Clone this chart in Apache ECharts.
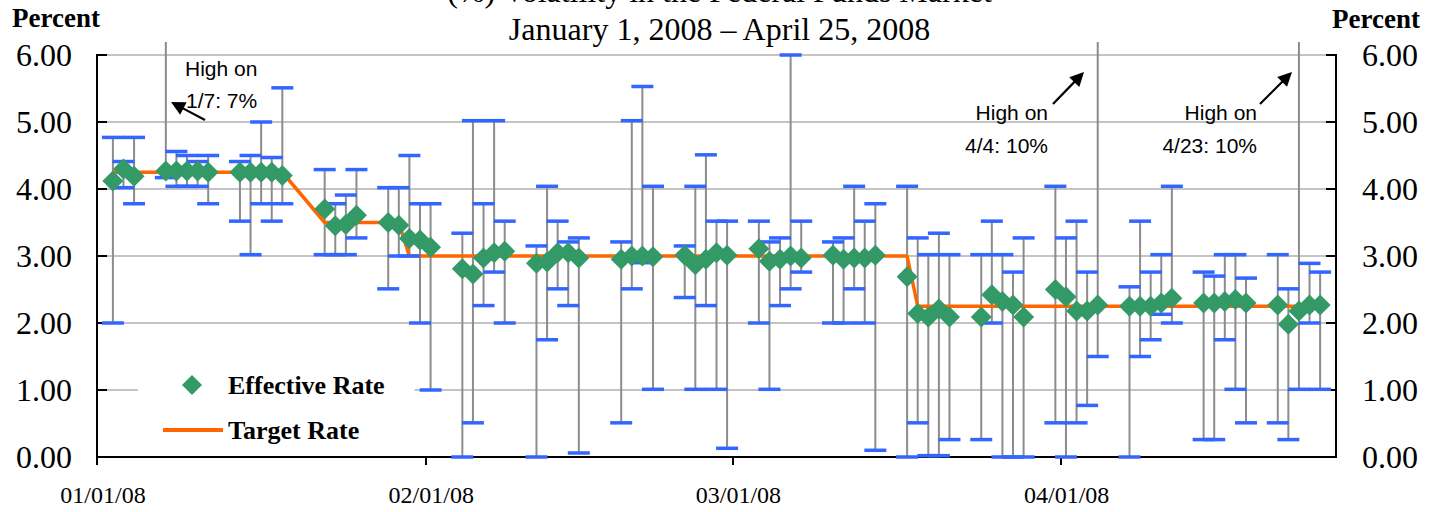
<!DOCTYPE html>
<html>
<head>
<meta charset="utf-8">
<script src="https://cdn.jsdelivr.net/npm/echarts@6/dist/echarts.min.js"></script>
<style>
html,body{margin:0;padding:0;background:#fff;}
#chart{width:1439px;height:512px;}
</style>
</head>
<body>
<div id="chart"></div>
<script>
// ---- data ----
const days = [
 '2008-01-02','2008-01-03','2008-01-04','2008-01-07','2008-01-08','2008-01-09','2008-01-10','2008-01-11',
 '2008-01-14','2008-01-15','2008-01-16','2008-01-17','2008-01-18','2008-01-22','2008-01-23','2008-01-24',
 '2008-01-25','2008-01-28','2008-01-29','2008-01-30','2008-01-31',
 '2008-02-01','2008-02-04','2008-02-05','2008-02-06','2008-02-07','2008-02-08','2008-02-11','2008-02-12',
 '2008-02-13','2008-02-14','2008-02-15','2008-02-19','2008-02-20','2008-02-21','2008-02-22','2008-02-25',
 '2008-02-26','2008-02-27','2008-02-28','2008-02-29',
 '2008-03-03','2008-03-04','2008-03-05','2008-03-06','2008-03-07','2008-03-10','2008-03-11','2008-03-12',
 '2008-03-13','2008-03-14','2008-03-17','2008-03-18','2008-03-19','2008-03-20','2008-03-21','2008-03-24',
 '2008-03-25','2008-03-26','2008-03-27','2008-03-28','2008-03-31',
 '2008-04-01','2008-04-02','2008-04-03','2008-04-04','2008-04-07','2008-04-08','2008-04-09','2008-04-10',
 '2008-04-11','2008-04-14','2008-04-15','2008-04-16','2008-04-17','2008-04-18','2008-04-21','2008-04-22',
 '2008-04-23','2008-04-24','2008-04-25'
];
const highs = [
 4.77,4.41,4.77,7.00,4.56,4.50,4.41,4.50,4.41,4.50,5.00,4.47,5.51,4.29,3.78,3.91,4.29,4.02,4.02,4.50,3.78,
 3.78,3.34,5.02,3.78,5.02,3.52,3.15,4.04,3.52,3.21,3.27,3.21,5.02,5.53,4.04,3.15,4.04,4.51,3.52,3.52,
 3.52,3.21,3.27,6.00,3.52,3.21,3.27,4.04,3.52,3.78,4.04,3.27,3.02,3.34,3.02,3.02,3.52,3.02,2.76,3.27,4.04,
 3.27,3.52,2.76,10.00,2.54,3.52,2.76,3.02,4.04,2.76,2.70,3.02,3.02,2.67,3.02,2.51,10.00,2.89,2.76
];
const lows = [
 2.00,4.02,3.78,4.17,4.04,4.04,4.04,3.78,3.52,3.02,3.78,3.52,3.78,3.02,3.02,3.02,3.27,2.51,3.00,3.00,2.00,
 1.00,0.00,0.51,2.26,2.76,2.00,0.00,1.75,2.51,2.26,0.06,0.51,2.51,2.90,1.01,2.38,1.01,2.26,1.01,0.13,
 2.00,1.01,2.26,2.51,2.76,2.00,2.00,2.51,2.00,0.10,0.00,0.51,0.02,0.02,0.26,0.26,2.00,0.00,0.00,0.00,0.51,
 0.00,0.51,0.77,1.50,0.00,1.50,1.75,2.13,2.00,0.26,0.26,1.75,1.01,0.51,0.51,0.26,1.01,2.00,1.01
];
const effective = [
 4.12,4.30,4.19,4.27,4.27,4.27,4.27,4.25,4.25,4.25,4.25,4.25,4.20,3.70,3.45,3.47,3.61,3.50,3.46,3.26,3.24,
 3.13,2.81,2.73,2.97,3.05,3.07,2.89,2.91,3.05,3.05,2.97,2.95,3.00,3.00,2.99,3.01,2.87,2.95,3.05,3.01,
 3.11,2.92,2.95,3.00,2.97,3.01,2.95,2.97,2.97,3.01,2.69,2.14,2.09,2.21,2.09,2.09,2.42,2.32,2.27,2.09,2.50,
 2.39,2.18,2.18,2.27,2.25,2.25,2.25,2.30,2.37,2.30,2.30,2.32,2.35,2.30,2.27,1.98,2.18,2.27,2.27
];
const target = [
 4.25,4.25,4.25,4.25,4.25,4.25,4.25,4.25,4.25,4.25,4.25,4.25,4.25,3.50,3.50,3.50,3.50,3.50,3.50,3.00,3.00,
 3.00,3.00,3.00,3.00,3.00,3.00,3.00,3.00,3.00,3.00,3.00,3.00,3.00,3.00,3.00,3.00,3.00,3.00,3.00,3.00,
 3.00,3.00,3.00,3.00,3.00,3.00,3.00,3.00,3.00,3.00,3.00,2.25,2.25,2.25,2.25,2.25,2.25,2.25,2.25,2.25,2.25,
 2.25,2.25,2.25,2.25,2.25,2.25,2.25,2.25,2.25,2.25,2.25,2.25,2.25,2.25,2.25,2.25,2.25,2.25,2.25
];
const monthTicks = ['2008-01-01','2008-02-01','2008-03-01','2008-04-01'];
const axisStart = '2008-01-01';
const axisEnd = '2008-04-27';
const titleLines = ['(%) Volatility in the Federal Funds Market', 'January 1, 2008 \u2013 April 25, 2008'];
const seriesNames = ['Effective Rate', 'Target Rate'];
const notes = [
  {lines: ['High on', '1/7: 7%']},
  {lines: ['High on', '4/4: 10%']},
  {lines: ['High on', '4/23: 10%']}
];

// ---- helpers ----
const DAY = 86400000;
function parseDay(s) { const p = s.split('-').map(Number); return new Date(p[0], p[1]-1, p[2]); }
const origin = parseDay(axisStart);
function dayNum(s) { return Math.round((parseDay(s) - origin) / DAY); }
// each business day is drawn at the middle of its own day slot
const pts = days.map(d => dayNum(d) + 0.5);
const tickVals = monthTicks.map(dayNum);
const SERIF = '"Liberation Serif","Times New Roman",serif';
const SANS = '"Liberation Sans",Arial,sans-serif';
function pad(n){ return (n<10?'0':'')+n; }
function fmtDay(v){ const d = new Date(origin.getFullYear(), origin.getMonth(), origin.getDate() + Math.round(v)); return pad(d.getMonth()+1)+'/'+pad(d.getDate())+'/'+pad(d.getFullYear()%100); }

function arrow(x1, y1, x2, y2) {
  const dx = x2-x1, dy = y2-y1, L = Math.hypot(dx, dy), ux = dx/L, uy = dy/L;
  const hl = 14, hw = 7;
  const bx = x2-ux*hl, by = y2-uy*hl;
  return [
    {type:'line', shape:{x1:x1, y1:y1, x2:bx+ux*2, y2:by+uy*2}, style:{stroke:'#000', lineWidth:2.2}, z:10},
    {type:'polygon', shape:{points:[[x2,y2],[bx-uy*hw, by+ux*hw],[bx+uy*hw, by-ux*hw]]}, style:{fill:'#000'}, z:10}
  ];
}
function txt(x, y, s, opts) {
  return {type:'text', x:x, y:y, z:10, style:Object.assign({
    text:s, fill:'#000', fontSize:21, fontFamily:SANS,
    align:'left', textAlign:'left', verticalAlign:'middle', textVerticalAlign:'middle'
  }, opts||{})};
}

const chart = echarts.init(document.getElementById('chart'), null, {renderer:'svg'});

const rangeData = pts.map((t,i) => [t, highs[i], lows[i]]);
const legendText = {fontSize:26, fontWeight:'bold', fontFamily:SERIF, color:'#000', lineHeight:26};

const option = {
  backgroundColor:'#fff',
  animation:false,
  title:{
    text: titleLines.join('\n'),
    left: 'center',
    top: -28,
    padding: 0,
    textStyle:{fontSize:32, fontWeight:'normal', fontFamily:SERIF, color:'#000', lineHeight:38}
  },
  grid:{left:97, right:103, top:55, bottom:55, show:true, borderColor:'#000', borderWidth:2, backgroundColor:'transparent'},
  legend:[
    {
      data:[{name:seriesNames[0], icon:'diamond'}],
      orient:'vertical', left:138, top:362,
      padding:[10,30,5,44],
      backgroundColor:'#fff',
      itemWidth:20, itemHeight:20,
      selectedMode:false,
      textStyle:Object.assign({padding:[0,0,0,21]}, legendText)
    },
    {
      data:[{name:seriesNames[1], icon:'rect'}],
      orient:'vertical', left:138, top:403,
      padding:[14,30,10,25],
      backgroundColor:'#fff',
      itemWidth:60, itemHeight:4,
      selectedMode:false,
      textStyle:legendText
    }
  ],
  xAxis:{
    type:'value',
    min: dayNum(axisStart), max: dayNum(axisEnd),
    axisLine:{show:true, lineStyle:{color:'#000', width:2}},
    axisTick:{show:true, customValues: tickVals, length:8, inside:false, lineStyle:{color:'#000', width:2}},
    axisLabel:{
      customValues: tickVals,
      margin:26, fontSize:24, fontFamily:SERIF, color:'#000',
      padding:[0,0,0,12],
      formatter: fmtDay
    },
    splitLine:{show:false}
  },
  yAxis:[
    {
      type:'value', min:0, max:6, interval:1, position:'left',
      axisLine:{show:true, lineStyle:{color:'#000', width:2}},
      axisTick:{show:true, inside:true, length:10, lineStyle:{color:'#000', width:2}},
      axisLabel:{margin:25, fontSize:32, fontFamily:SERIF, color:'#000', formatter:v=>v.toFixed(2)},
      splitLine:{show:true, lineStyle:{color:'#c4c4c4', width:2}}
    },
    {
      type:'value', min:0, max:6, interval:1, position:'right',
      axisLine:{show:true, lineStyle:{color:'#000', width:2}},
      axisTick:{show:true, inside:true, length:10, lineStyle:{color:'#000', width:2}},
      axisLabel:{margin:26, fontSize:32, fontFamily:SERIF, color:'#000', formatter:v=>v.toFixed(2)},
      splitLine:{show:false}
    }
  ],
  series:[
    {
      name:'Range', type:'custom', clip:false, z:2, silent:true,
      encode:{x:0, y:[1,2]},
      data: rangeData,
      renderItem: function(params, api){
        const x = api.value(0);
        const hi = api.coord([x, api.value(1)]);
        const lo = api.coord([x, api.value(2)]);
        const cs = params.coordSys;
        const yTop = Math.max(hi[1], cs.y - 13);
        return {type:'line', shape:{x1:hi[0], y1:yTop, x2:lo[0], y2:lo[1]}, style:{stroke:'#8c8c8c', lineWidth:2}};
      }
    },
    {
      name:seriesNames[1], type:'line', z:3, symbol:'none', showSymbol:false,
      data: pts.map((t,i)=>[t, target[i]]),
      lineStyle:{color:'#ff6600', width:3.5},
      itemStyle:{color:'#ff6600'}
    },
    {
      name:'Caps', type:'custom', clip:false, z:4, silent:true,
      encode:{x:0, y:[1,2]},
      data: rangeData,
      renderItem: function(params, api){
        const x = api.value(0);
        const hi = api.coord([x, api.value(1)]);
        const lo = api.coord([x, api.value(2)]);
        const cs = params.coordSys;
        const w = 11;
        const ch = [];
        if (hi[1] >= cs.y - 1) ch.push({type:'line', shape:{x1:hi[0]-w, y1:hi[1], x2:hi[0]+w, y2:hi[1]}, style:{stroke:'#3366ff', lineWidth:3.5}});
        ch.push({type:'line', shape:{x1:lo[0]-w, y1:lo[1], x2:lo[0]+w, y2:lo[1]}, style:{stroke:'#3366ff', lineWidth:3.5}});
        return {type:'group', children:ch};
      }
    },
    {
      name:seriesNames[0], type:'scatter', z:5, symbol:'diamond', symbolSize:21,
      data: pts.map((t,i)=>[t, effective[i]]),
      itemStyle:{color:'#339966', opacity:1}
    }
  ],
  graphic:[
    txt(12, 18, 'Percent', {fontSize:27, fontWeight:'bold', fontFamily:SERIF}),
    txt(1420, 19, 'Percent', {fontSize:27, fontWeight:'bold', fontFamily:SERIF, align:'right', textAlign:'right'}),
    txt(185, 68, notes[0].lines[0]),
    txt(186, 100, notes[0].lines[1]),
    txt(1048, 112, notes[1].lines[0], {align:'right', textAlign:'right'}),
    txt(1048, 145, notes[1].lines[1], {align:'right', textAlign:'right'}),
    txt(1257, 112, notes[2].lines[0], {align:'right', textAlign:'right'}),
    txt(1257, 145, notes[2].lines[1], {align:'right', textAlign:'right'})
  ].concat(arrow(205,120,171,102), arrow(1053,104,1084,72), arrow(1260,104,1292,72))
};
chart.setOption(option);
</script>
</body>
</html>
